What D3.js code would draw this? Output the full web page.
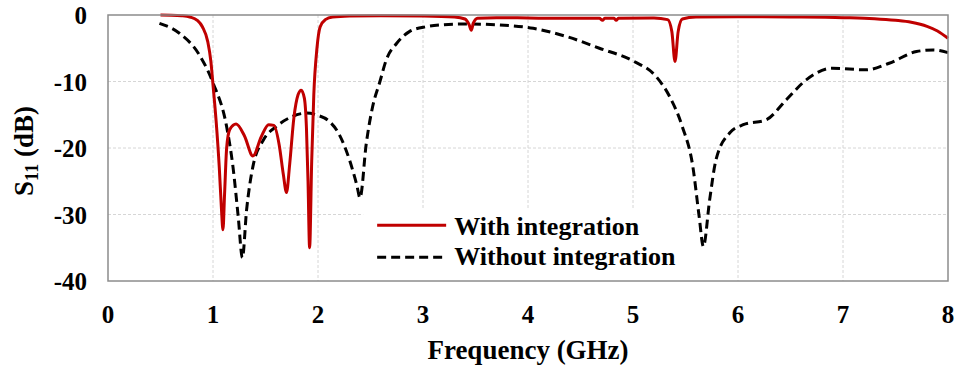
<!DOCTYPE html>
<html>
<head>
<meta charset="utf-8">
<script src="https://cdn.jsdelivr.net/npm/d3@7"></script>
</head>
<body style="margin:0">
<svg id="chart" width="955" height="369"></svg>
<script>
// S11 with integration (red, solid)
const freqWith = [0.5, 0.6, 0.7, 0.78, 0.85, 0.9, 0.95, 0.98, 1.0, 1.03, 1.06, 1.08, 1.095, 1.11, 1.13, 1.16, 1.22, 1.3, 1.38, 1.46, 1.53, 1.58, 1.63, 1.67, 1.70, 1.73, 1.77, 1.81, 1.84, 1.87, 1.89, 1.905, 1.92, 1.94, 1.96, 1.99, 2.02, 2.07, 2.14, 2.3, 2.6, 3.0, 3.3, 3.4, 3.44, 3.46, 3.48, 3.52, 3.7, 4.0, 4.3, 4.68, 4.71, 4.73, 4.82, 4.84, 4.86, 5.2, 5.33, 5.37, 5.4, 5.43, 5.47, 5.6, 6.0, 6.5, 7.0, 7.3, 7.5, 7.65, 7.8, 7.9, 8.0];
const s11With = [0, -0.02, -0.1, -0.3, -0.8, -1.8, -4, -7, -10.5, -16, -23, -29, -32.3, -27, -20, -17.2, -16.4, -18.2, -21.2, -18.3, -16.5, -16.6, -19.5, -24, -26.7, -22.5, -15.5, -12, -11.3, -12.5, -17, -25, -35, -22, -12, -5, -1.8, -0.7, -0.3, -0.15, -0.1, -0.15, -0.3, -0.6, -1.5, -2.3, -1.2, -0.5, -0.4, -0.45, -0.5, -0.5, -0.8, -0.5, -0.5, -0.8, -0.5, -0.45, -0.7, -2.5, -7, -2.5, -0.6, -0.3, -0.25, -0.3, -0.4, -0.55, -0.8, -1.1, -1.7, -2.4, -3.5];

// S11 without integration (black, dashed)
const freqWithout = [0.49, 0.68, 0.87, 1.0, 1.13, 1.19, 1.24, 1.28, 1.32, 1.38, 1.48, 1.60, 1.75, 1.89, 2.0, 2.10, 2.20, 2.30, 2.37, 2.40, 2.46, 2.52, 2.59, 2.65, 2.75, 2.87, 3.03, 3.16, 3.41, 3.73, 4.05, 4.37, 4.68, 5.0, 5.22, 5.35, 5.47, 5.57, 5.63, 5.67, 5.73, 5.79, 5.92, 6.05, 6.27, 6.46, 6.65, 6.9, 7.22, 7.44, 7.7, 7.86, 8.0];
const s11Without = [-1.25, -2.75, -6, -10.2, -16.8, -22.8, -30.3, -36.5, -29.3, -22.8, -18.8, -16.8, -15.3, -14.75, -15.1, -15.9, -17.9, -21.8, -25.6, -27.5, -19.3, -13.8, -10, -6.75, -4.25, -2.5, -1.75, -1.5, -1.35, -1.5, -2, -3.25, -5, -6.9, -9.25, -12.3, -16.8, -22.8, -30.3, -34.8, -27.8, -21.8, -17.75, -16.5, -15.75, -12.75, -9.75, -8, -8.25, -7.25, -5.5, -5.25, -5.65];

const xTicks = [0, 1, 2, 3, 4, 5, 6, 7, 8];
const yTicks = [0, -10, -20, -30, -40];
const legendLabels = ["With integration", "Without integration"];

const serifFont = "Liberation Serif";

const margin = {top: 15, right: 7, bottom: 88, left: 108};
const width = 955, height = 369;
const innerW = width - margin.left - margin.right;
const innerH = height - margin.top - margin.bottom;

const svg = d3.select("#chart");
const g = svg.append("g").attr("transform", `translate(${margin.left},${margin.top})`);

const x = d3.scaleLinear().domain([0, 8]).range([0, innerW]);
const y = d3.scaleLinear().domain([-40, 0]).range([innerH, 0]);

// gridlines
g.append("g")
  .selectAll("line")
  .data(xTicks.slice(1, -1))
  .join("line")
    .attr("x1", d => x(d)).attr("x2", d => x(d))
    .attr("y1", 0).attr("y2", innerH)
    .attr("stroke", "#d6d6d6").attr("stroke-width", 1).attr("stroke-dasharray", "3,2");
g.append("g")
  .selectAll("line")
  .data(yTicks.slice(1, -1))
  .join("line")
    .attr("x1", 0).attr("x2", innerW)
    .attr("y1", d => y(d)).attr("y2", d => y(d))
    .attr("stroke", "#d6d6d6").attr("stroke-width", 1).attr("stroke-dasharray", "3,2");

// tick labels drawn from the scales, hyphen minus like the source
g.append("g")
  .selectAll("text")
  .data(xTicks)
  .join("text")
    .attr("x", d => x(d))
    .attr("y", innerH + 42)
    .attr("text-anchor", "middle")
    .attr("font-family", serifFont).attr("font-weight", "bold").attr("font-size", 25)
    .text(d => d);
g.append("g")
  .selectAll("text")
  .data(yTicks)
  .join("text")
    .attr("x", -21)
    .attr("y", d => y(d) + 9)
    .attr("text-anchor", "end")
    .attr("font-family", serifFont).attr("font-weight", "bold").attr("font-size", 25)
    .text(d => d);

// legend background (covers gridlines)
const leg = g.append("g").attr("transform", `translate(${x(2.43)},${y(-29.3)})`);
leg.append("rect")
  .attr("width", x(5.55) - x(2.43)).attr("height", innerH - y(-29.3))
  .attr("fill", "#fff");

// curves
const line = d3.line()
  .x(d => x(d[0]))
  .y(d => y(d[1]))
  .curve(d3.curveMonotoneX);

g.append("path")
  .datum(d3.zip(freqWithout, s11Without))
  .attr("d", line)
  .attr("fill", "none")
  .attr("stroke", "#000")
  .attr("stroke-width", 3)
  .attr("stroke-dasharray", "9,5");

g.append("path")
  .datum(d3.zip(freqWith, s11With))
  .attr("d", line)
  .attr("fill", "none")
  .attr("stroke", "#c00000")
  .attr("stroke-width", 3)
  .attr("stroke-linejoin", "round");

// legend entries
const legendStyles = [
  {stroke: "#c00000", dash: null},
  {stroke: "#000", dash: "9,5"}
];
legendLabels.forEach((lab, i) => {
  const yy = 15.5 + i * 32;
  leg.append("line")
    .attr("x1", 14).attr("x2", 83)
    .attr("y1", yy).attr("y2", yy)
    .attr("stroke", legendStyles[i].stroke)
    .attr("stroke-width", 3)
    .attr("stroke-dasharray", legendStyles[i].dash);
  leg.append("text")
    .attr("x", 91).attr("y", 25 + i * 30)
    .attr("font-family", serifFont).attr("font-weight", "bold")
    .attr("font-size", 26)
    .text(lab);
});

// plot border
g.append("rect")
  .attr("width", innerW).attr("height", innerH)
  .attr("fill", "none")
  .attr("stroke", "#8c8c8c")
  .attr("stroke-width", 1.5);

// axis titles
svg.append("text")
  .attr("x", margin.left + innerW / 2)
  .attr("y", 359)
  .attr("text-anchor", "middle")
  .attr("font-family", serifFont).attr("font-weight", "bold")
  .attr("font-size", 27)
  .text("Frequency (GHz)");

const yt = svg.append("text")
  .attr("transform", `translate(33,151) rotate(-90)`)
  .attr("text-anchor", "middle")
  .attr("font-family", serifFont).attr("font-weight", "bold")
  .attr("font-size", 27);
yt.append("tspan").text("S");
yt.append("tspan").attr("font-size", 18).attr("dy", 5).text("11");
yt.append("tspan").attr("dy", -5).text(" (dB)");
</script>
</body>
</html>
